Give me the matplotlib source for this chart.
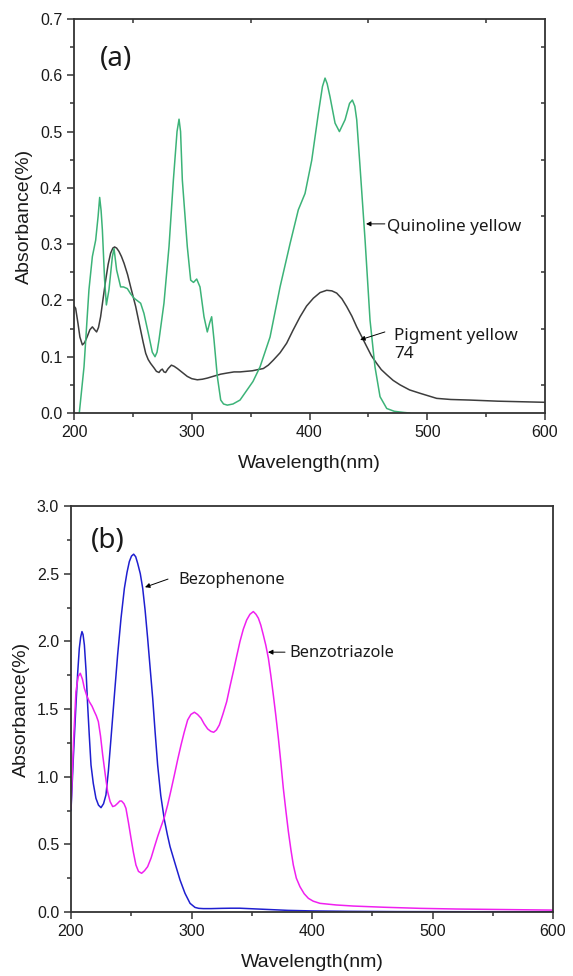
import matplotlib
matplotlib.use("Agg")
import matplotlib.pyplot as plt
from matplotlib.ticker import MultipleLocator, NullFormatter

plt.rcParams['font.family'] = ['Liberation Sans', 'DejaVu Sans']

# ---------------- Data: panel (a) ----------------
wl_quinoline = [204.5, 208.5, 212.7, 215.6, 218.4, 220.5, 221.8, 223.0, 224.1, 226.0,
                227.5, 229.7, 232.6, 234.0, 236.2, 239.6, 242.0, 245.3, 248.0, 251.0,
                256.6, 259.4, 263.7, 266.5, 268.8, 270.5, 272.2, 276.4, 280.7, 284.4,
                287.5, 289.2, 290.5, 292.0, 296.2, 299.1, 301.5, 304.2, 307.0, 310.4,
                313.2, 315.2, 316.9, 318.9, 321.7, 324.6, 327.0, 330.2, 335.0, 341.0,
                346.0, 352.0, 358.0, 366.5, 375.0, 383.5, 390.5, 396.2, 401.9, 407.5,
                411.0, 413.2, 415.0, 417.4, 421.7, 425.4, 430.2, 434.0, 436.4, 438.5,
                440.1, 442.9, 447.2, 451.4, 455.6, 459.9, 465.6, 472.0, 480.0, 485.0]
abs_quinoline = [0.000, 0.082, 0.219, 0.278, 0.307, 0.350, 0.383, 0.360, 0.325, 0.236,
                 0.192, 0.219, 0.278, 0.292, 0.254, 0.224, 0.224, 0.221, 0.212, 0.204,
                 0.195, 0.177, 0.136, 0.108, 0.100, 0.108, 0.130, 0.195, 0.296, 0.414,
                 0.500, 0.522, 0.500, 0.414, 0.296, 0.236, 0.232, 0.238, 0.224, 0.171,
                 0.144, 0.160, 0.171, 0.130, 0.065, 0.023, 0.016, 0.014, 0.016, 0.023,
                 0.038, 0.056, 0.082, 0.135, 0.224, 0.301, 0.361, 0.390, 0.449, 0.532,
                 0.580, 0.595, 0.585, 0.562, 0.515, 0.500, 0.521, 0.550, 0.556, 0.545,
                 0.521, 0.438, 0.307, 0.165, 0.082, 0.029, 0.008, 0.003, 0.001, 0.000]

wl_pigment = [200.0, 201.4, 203.4, 205.0, 207.1, 209.0, 211.3, 213.5, 215.6, 217.5,
              219.2, 220.8, 222.6, 224.5, 226.9, 229.0, 231.1, 233.0, 234.5, 236.2,
              238.2, 240.3, 242.5, 245.5, 248.1, 250.2, 252.4, 254.5, 256.6, 258.7,
              260.9, 263.0, 265.1, 268.0, 270.0, 272.2, 273.6, 275.0, 276.4, 277.8,
              280.0, 282.7, 285.0, 287.8, 292.0, 296.2, 300.0, 304.7, 309.0, 313.2,
              318.0, 324.6, 330.0, 335.9, 341.0, 346.0, 351.4, 356.0, 360.8, 365.0,
              369.3, 375.0, 380.6, 386.0, 392.0, 397.5, 403.3, 409.0, 414.6, 419.0,
              423.1, 427.5, 431.6, 436.0, 440.1, 444.5, 448.6, 452.5, 457.1, 461.0,
              465.6, 471.0, 476.9, 485.0, 493.9, 508.0, 520.0, 536.0, 560.0, 580.0, 600.0]
abs_pigment = [0.190, 0.186, 0.159, 0.135, 0.121, 0.125, 0.136, 0.148, 0.153, 0.148,
               0.144, 0.152, 0.171, 0.200, 0.236, 0.264, 0.284, 0.293, 0.295, 0.293,
               0.287, 0.278, 0.266, 0.246, 0.224, 0.207, 0.189, 0.168, 0.147, 0.126,
               0.106, 0.095, 0.088, 0.080, 0.074, 0.072, 0.076, 0.078, 0.073, 0.072,
               0.079, 0.085, 0.083, 0.079, 0.072, 0.065, 0.061, 0.059, 0.060, 0.062,
               0.065, 0.069, 0.071, 0.073, 0.073, 0.074, 0.075, 0.077, 0.079, 0.085,
               0.094, 0.107, 0.124, 0.147, 0.171, 0.190, 0.204, 0.214, 0.218, 0.217,
               0.213, 0.203, 0.189, 0.172, 0.153, 0.135, 0.118, 0.102, 0.088, 0.077,
               0.068, 0.058, 0.050, 0.041, 0.035, 0.026, 0.024, 0.023, 0.021, 0.020, 0.019]

# ---------------- Data: panel (b) ----------------
wl_bezophenone = [200.0, 202.0, 204.1, 205.5, 206.9, 208.0, 209.1, 210.0, 211.1, 212.5,
                  213.8, 215.2, 216.6, 218.5, 220.7, 222.8, 224.9, 227.0, 229.0, 231.0,
                  233.2, 236.0, 238.7, 241.5, 244.3, 246.5, 248.4, 250.2, 252.0, 253.7,
                  255.3, 257.5, 259.5, 261.5, 263.6, 265.7, 267.8, 269.8, 271.9, 274.5,
                  277.5, 280.0, 282.2, 286.3, 290.5, 294.6, 298.8, 302.9, 306.0, 309.8,
                  316.2, 325.0, 332.8, 340.0, 350.0, 365.0, 380.0, 400.0,
                  430.0, 470.0, 530.0, 600.0]
abs_bezophenone = [0.750, 1.150, 1.530, 1.760, 1.949, 2.030, 2.072, 2.050, 1.973, 1.780,
                   1.530, 1.300, 1.086, 0.950, 0.840, 0.790, 0.771, 0.800, 0.865, 1.040,
                   1.284, 1.600, 1.900, 2.170, 2.392, 2.510, 2.589, 2.630, 2.644, 2.625,
                   2.577, 2.500, 2.392, 2.230, 2.023, 1.800, 1.579, 1.330, 1.086, 0.860,
                   0.680, 0.570, 0.483, 0.360, 0.236, 0.138, 0.064, 0.034, 0.027, 0.025,
                   0.025, 0.027, 0.028, 0.028, 0.024, 0.018, 0.012, 0.008,
                   0.005, 0.003, 0.002, 0.002]

wl_benzotriazole = [200.0, 201.0, 202.2, 204.1, 206.0, 207.7, 209.5, 211.1, 213.0, 215.2,
                    217.5, 219.4, 221.0, 222.7, 224.5, 226.3, 228.5, 230.4, 232.5, 234.6,
                    236.5, 238.7, 240.5, 242.0, 244.0, 245.6, 247.7, 249.8, 251.8, 253.9,
                    256.0, 258.6, 261.0, 263.6, 266.5, 269.2, 272.0, 274.7, 277.5, 280.2,
                    283.0, 285.8, 288.5, 291.3, 294.0, 296.8, 299.5, 302.4, 305.0, 307.9,
                    310.5, 313.4, 316.0, 318.4, 320.7, 323.1, 326.0, 329.2, 332.0, 334.7,
                    337.5, 340.2, 343.0, 345.8, 348.5, 351.3, 353.5, 355.5, 357.5, 359.6,
                    361.7, 363.8, 365.8, 367.9, 370.0, 372.1, 374.2, 376.2, 378.3, 380.4,
                    382.5, 384.5, 387.0, 390.0, 393.5, 397.0, 401.0, 406.6, 420.0, 434.3,
                    460.0, 489.6, 520.0, 560.0, 600.0]
abs_benzotriazole = [0.766, 1.000, 1.284, 1.628, 1.740, 1.764, 1.720, 1.653, 1.600, 1.554,
                     1.520, 1.481, 1.450, 1.407, 1.300, 1.160, 1.010, 0.889, 0.815, 0.779,
                     0.785, 0.803, 0.820, 0.820, 0.800, 0.766, 0.660, 0.545, 0.440, 0.347,
                     0.300, 0.286, 0.305, 0.335, 0.400, 0.480, 0.560, 0.630, 0.700, 0.791,
                     0.900, 1.013, 1.125, 1.234, 1.330, 1.419, 1.460, 1.476, 1.460, 1.432,
                     1.390, 1.353, 1.335, 1.328, 1.345, 1.382, 1.460, 1.554, 1.670, 1.776,
                     1.890, 1.998, 2.090, 2.158, 2.200, 2.220, 2.200, 2.171, 2.120, 2.047,
                     1.970, 1.875, 1.750, 1.604, 1.450, 1.284, 1.100, 0.914, 0.750, 0.594,
                     0.460, 0.347, 0.250, 0.187, 0.135, 0.101, 0.080, 0.064, 0.052, 0.044,
                     0.035, 0.027, 0.022, 0.018, 0.014]

x_ticks = [200, 300, 400, 500, 600]
ya_ticks = [0.0, 0.1, 0.2, 0.3, 0.4, 0.5, 0.6, 0.7]
yb_ticks = [0.0, 0.5, 1.0, 1.5, 2.0, 2.5, 3.0]

# ---------------- Figure ----------------
W, H = 573, 976
fig = plt.figure(figsize=(W / 100, H / 100), dpi=100)

ax_a = fig.add_axes([74 / W, 1 - 413 / H, 471 / W, 394 / H])
ax_b = fig.add_axes([71 / W, 1 - 912 / H, 482 / W, 406 / H])

spine_color = '#333333'
ann_font = ['Noto Sans', 'DejaVu Sans']


def style_axes(ax, ymax, yticks, yminor):
    ax.set_xlim(200, 600)
    ax.set_ylim(0, ymax)
    ax.set_xticks(x_ticks)
    ax.set_yticks(yticks)
    ax.xaxis.set_minor_locator(MultipleLocator(50))
    ax.yaxis.set_minor_locator(MultipleLocator(yminor))
    for s in ax.spines.values():
        s.set_linewidth(1.3)
        s.set_color(spine_color)
    ax.tick_params(which='both', direction='out', top=False, right=False,
                   color=spine_color, width=1.1, labelsize=11.5, labelcolor='#1a1a1a')
    ax.tick_params(which='major', length=5)
    ax.tick_params(which='minor', length=3)
    ax.set_xlabel('Wavelength(nm)', fontsize=14, labelpad=11, color='#1a1a1a')
    ax.set_ylabel('Absorbance(%)', fontsize=14, labelpad=5, color='#1a1a1a')


# ---- panel (a)
style_axes(ax_a, 0.7, ya_ticks, 0.05)
ax_a.set_yticklabels([f'{v:.1f}' for v in ya_ticks])
ax_a.plot(wl_pigment, abs_pigment, color='#3d3d3d', lw=1.1)
ax_a.plot(wl_quinoline, abs_quinoline, color='#3cb378', lw=1.1)

top = ax_a.secondary_xaxis('top')
top.set_xticks([250, 350, 450, 550])
top.xaxis.set_major_formatter(NullFormatter())
top.tick_params(direction='in', length=3, width=1.1, color=spine_color)
top.spines['top'].set_visible(False)
right = ax_a.secondary_yaxis('right')
right.set_yticks([0.05, 0.15, 0.25, 0.35, 0.45, 0.55, 0.65])
right.yaxis.set_major_formatter(NullFormatter())
right.tick_params(direction='in', length=3, width=1.1, color=spine_color)
right.spines['right'].set_visible(False)

ax_a.text(0.089, 0.898, '(a)', transform=ax_a.transAxes, fontsize=20,
          family=ann_font, ha='center', va='center', color='#1a1a1a')

arrow_kw = dict(arrowstyle='-|>', color='black', lw=0.7, mutation_scale=7,
                shrinkA=0, shrinkB=0)
ax_a.annotate('', xy=(448.0, 0.336), xytext=(464.0, 0.336), arrowprops=arrow_kw)
ax_a.text(465.8, 0.331, 'Quinoline yellow', fontsize=12.3, family=ann_font,
          ha='left', va='center', color='#1a1a1a')
ax_a.annotate('', xy=(443.0, 0.130), xytext=(464.0, 0.144), arrowprops=arrow_kw)
ax_a.text(471.8, 0.1205, 'Pigment yellow\n74', fontsize=12.3, family=ann_font,
          ha='left', va='center', color='#1a1a1a', linespacing=1.2)

# ---- panel (b)
style_axes(ax_b, 3.0, yb_ticks, 0.25)
ax_b.set_yticklabels([f'{v:.1f}' for v in yb_ticks])
ax_b.plot(wl_bezophenone, abs_bezophenone, color='#1f1fd0', lw=1.1)
ax_b.plot(wl_benzotriazole, abs_benzotriazole, color='#f020f0', lw=1.1)

ax_b.text(0.0757, 0.914, '(b)', transform=ax_b.transAxes, fontsize=20,
          family=ann_font, ha='center', va='center', color='#1a1a1a')
ax_b.annotate('', xy=(261.4, 2.40), xytext=(280.5, 2.46), arrowprops=arrow_kw)
ax_b.text(288.8, 2.454, 'Bezophenone', fontsize=11.8, family=ann_font,
          ha='left', va='center', color='#1a1a1a')
ax_b.annotate('', xy=(363.5, 1.92), xytext=(377.6, 1.92), arrowprops=arrow_kw)
ax_b.text(381.0, 1.915, 'Benzotriazole', fontsize=11.8, family=ann_font,
          ha='left', va='center', color='#1a1a1a')

fig.savefig('out.png', dpi=100)
